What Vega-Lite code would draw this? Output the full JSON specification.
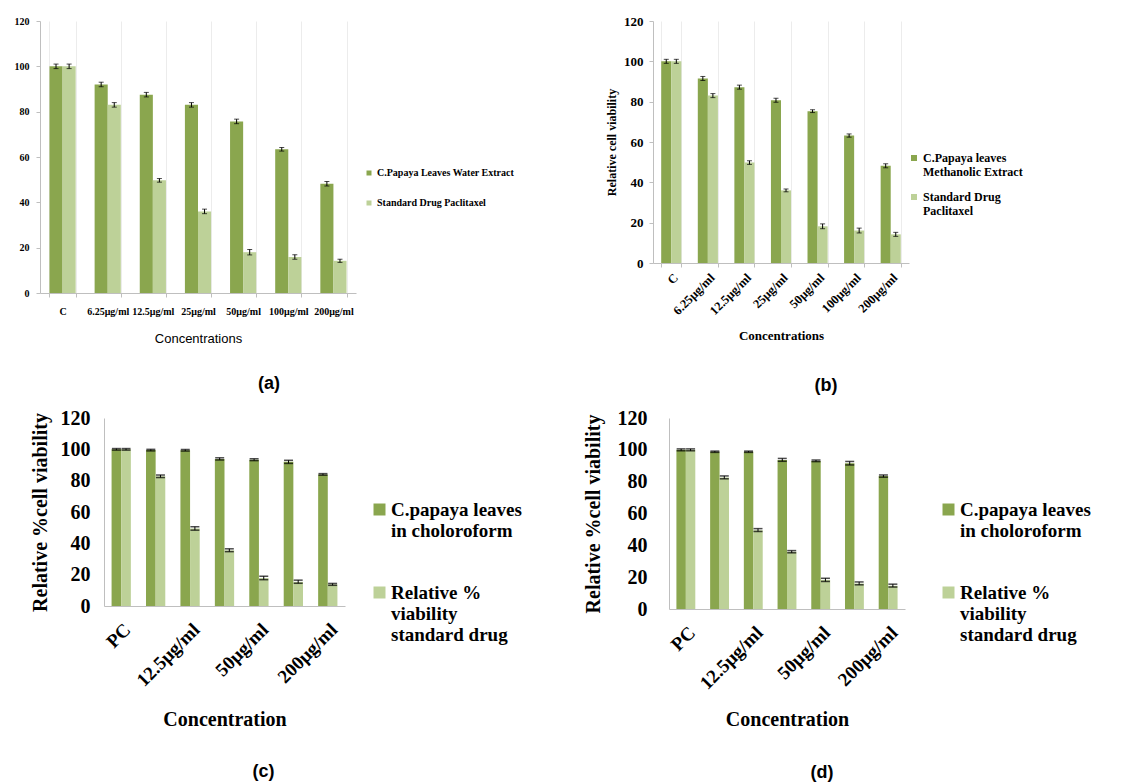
{
  "$schema": "https://vega.github.io/schema/vega-lite/v6.json",
  "background": "white",
  "padding": {"left": 10, "top": 15, "right": 0, "bottom": 0},
  "config": {
    "view": {"stroke": null},
    "axis": {"labelColor": "black", "titleColor": "black", "labelOverlap": false},
    "legend": {"labelColor": "black"}
  },
  "spacing": 12,
  "resolve": {"scale": {"color": "independent", "xOffset": "independent"}, "legend": {"color": "independent"}},
  "vconcat": [
    {
      "spacing": 1,
      "resolve": {"scale": {"color": "independent", "xOffset": "independent"}, "legend": {"color": "independent"}},
      "hconcat": [
        {"width": 3, "height": 1, "data": {"values": [{"v": 0}]}, "mark": {"type": "point", "size": 0, "opacity": 0}, "encoding": {}},
        {
          "spacing": 90,
          "resolve": {"scale": {"color": "independent", "xOffset": "independent"}, "legend": {"color": "independent"}},
          "hconcat": [
            {
              "width": 316,
              "height": 272,
              "data": {"values": [
                {"conc": "C", "series": "C.Papaya Leaves Water Extract", "value": 100.0, "lo": 99.0, "hi": 101.0},
                {"conc": "C", "series": "Standard Drug Paclitaxel", "value": 100.0, "lo": 99.0, "hi": 101.0},
                {"conc": "6.25μg/ml", "series": "C.Papaya Leaves Water Extract", "value": 92.0, "lo": 91.0, "hi": 93.0},
                {"conc": "6.25μg/ml", "series": "Standard Drug Paclitaxel", "value": 83.0, "lo": 82.0, "hi": 84.0},
                {"conc": "12.5μg/ml", "series": "C.Papaya Leaves Water Extract", "value": 87.5, "lo": 86.5, "hi": 88.5},
                {"conc": "12.5μg/ml", "series": "Standard Drug Paclitaxel", "value": 49.7, "lo": 48.9, "hi": 50.5},
                {"conc": "25μg/ml", "series": "C.Papaya Leaves Water Extract", "value": 83.0, "lo": 82.0, "hi": 84.0},
                {"conc": "25μg/ml", "series": "Standard Drug Paclitaxel", "value": 36.0, "lo": 35.0, "hi": 37.0},
                {"conc": "50μg/ml", "series": "C.Papaya Leaves Water Extract", "value": 75.7, "lo": 74.7, "hi": 76.7},
                {"conc": "50μg/ml", "series": "Standard Drug Paclitaxel", "value": 18.0, "lo": 16.8, "hi": 19.2},
                {"conc": "100μg/ml", "series": "C.Papaya Leaves Water Extract", "value": 63.4, "lo": 62.6, "hi": 64.2},
                {"conc": "100μg/ml", "series": "Standard Drug Paclitaxel", "value": 15.9, "lo": 14.9, "hi": 16.9},
                {"conc": "200μg/ml", "series": "C.Papaya Leaves Water Extract", "value": 48.2, "lo": 47.2, "hi": 49.2},
                {"conc": "200μg/ml", "series": "Standard Drug Paclitaxel", "value": 14.2, "lo": 13.5, "hi": 14.9}
              ]},
              "title": {"text": "(a)", "orient": "bottom", "frame": "group", "anchor": "middle", "dx": 71, "offset": 30, "font": "Liberation Sans", "fontSize": 18, "fontWeight": "bold", "color": "black"},
              "encoding": {
                "x": {"field": "conc", "type": "nominal", "sort": null, "title": "Concentrations",
                  "scale": {"type": "band", "paddingInner": 0.42, "paddingOuter": 0.21},
                  "axis": {"labelAngle": 0, "labelFont": "Liberation Serif", "labelFontSize": 10, "labelFontWeight": "bold", "labelPadding": 9, "labelOverlap": false, "labelLimit": 0, "tickBand": "extent", "tickSize": 4, "tickColor": "#bfbfbf", "domainColor": "#bfbfbf", "grid": true, "gridColor": "#ececec", "titleFont": "Liberation Sans Narrow, Liberation Sans", "titleFontSize": 13, "titleFontWeight": "normal", "titlePadding": 16}},
                "xOffset": {"field": "series", "type": "nominal", "sort": null, "scale": {"domain": ["C.Papaya Leaves Water Extract", "Standard Drug Paclitaxel"], "paddingInner": 0, "paddingOuter": 0}}
              },
              "layer": [
                {"mark": {"type": "bar"},
                 "encoding": {
                   "y": {"field": "value", "type": "quantitative", "title": null, "scale": {"domain": [0, 120]},
                     "axis": {"values": [0, 20, 40, 60, 80, 100, 120], "tickCount": 7, "labelOverlap": false, "grid": false, "labelFont": "Liberation Serif", "labelFontSize": 10, "labelFontWeight": "bold", "labelPadding": 7, "tickSize": 4, "tickColor": "#bfbfbf", "domainColor": "#bfbfbf"}},
                   "color": {"field": "series", "type": "nominal", "sort": null,
                     "scale": {"domain": ["C.Papaya Leaves Water Extract", "Standard Drug Paclitaxel"], "range": ["#8AA64E", "#BDD198"]},
                     "legend": {"orient": "none", "legendX": 324, "legendY": 147, "title": null, "symbolType": "square", "symbolSize": 25, "symbolStrokeWidth": 0, "labelFont": "Liberation Serif", "labelFontSize": 10, "labelFontWeight": "bold", "labelOffset": 3, "rowPadding": 20, "labelLimit": 0}}
                 }},
                {"mark": {"type": "rule", "color": "black", "strokeWidth": 1},
                 "encoding": {"y": {"field": "lo", "type": "quantitative", "title": null}, "y2": {"field": "hi"}}},
                {"mark": {"type": "tick", "color": "black", "size": 5, "thickness": 1},
                 "encoding": {"y": {"field": "lo", "type": "quantitative", "title": null}}},
                {"mark": {"type": "tick", "color": "black", "size": 5, "thickness": 1},
                 "encoding": {"y": {"field": "hi", "type": "quantitative", "title": null}}}
              ]
            },
            {
              "width": 256,
              "height": 242,
              "data": {"values": [
                {"conc": "C", "series": "C.Papaya leaves Methanolic Extract", "value": 100.0, "lo": 99.0, "hi": 101.0},
                {"conc": "C", "series": "Standard Drug Paclitaxel", "value": 100.0, "lo": 99.0, "hi": 101.0},
                {"conc": "6.25μg/ml", "series": "C.Papaya leaves Methanolic Extract", "value": 91.5, "lo": 90.5, "hi": 92.5},
                {"conc": "6.25μg/ml", "series": "Standard Drug Paclitaxel", "value": 83.0, "lo": 82.0, "hi": 84.0},
                {"conc": "12.5μg/ml", "series": "C.Papaya leaves Methanolic Extract", "value": 87.2, "lo": 86.2, "hi": 88.2},
                {"conc": "12.5μg/ml", "series": "Standard Drug Paclitaxel", "value": 49.8, "lo": 48.9, "hi": 50.7},
                {"conc": "25μg/ml", "series": "C.Papaya leaves Methanolic Extract", "value": 80.7, "lo": 79.7, "hi": 81.7},
                {"conc": "25μg/ml", "series": "Standard Drug Paclitaxel", "value": 36.0, "lo": 35.3, "hi": 36.7},
                {"conc": "50μg/ml", "series": "C.Papaya leaves Methanolic Extract", "value": 75.3, "lo": 74.6, "hi": 76.0},
                {"conc": "50μg/ml", "series": "Standard Drug Paclitaxel", "value": 18.2, "lo": 17.0, "hi": 19.4},
                {"conc": "100μg/ml", "series": "C.Papaya leaves Methanolic Extract", "value": 63.2, "lo": 62.4, "hi": 64.0},
                {"conc": "100μg/ml", "series": "Standard Drug Paclitaxel", "value": 16.1, "lo": 14.9, "hi": 17.3},
                {"conc": "200μg/ml", "series": "C.Papaya leaves Methanolic Extract", "value": 48.2, "lo": 47.2, "hi": 49.2},
                {"conc": "200μg/ml", "series": "Standard Drug Paclitaxel", "value": 14.2, "lo": 13.2, "hi": 15.2}
              ]},
              "title": {"text": "(b)", "orient": "bottom", "frame": "group", "anchor": "middle", "dx": 45, "offset": 35, "font": "Liberation Sans", "fontSize": 18, "fontWeight": "bold", "color": "black"},
              "encoding": {
                "x": {"field": "conc", "type": "nominal", "sort": null, "title": "Concentrations",
                  "scale": {"type": "band", "paddingInner": 0.45, "paddingOuter": 0.225},
                  "axis": {"labelAngle": -45, "labelFont": "Liberation Serif", "labelFontSize": 12.5, "labelFontWeight": "bold", "labelPadding": 4, "labelOverlap": false, "labelLimit": 0, "tickBand": "extent", "tickSize": 4, "tickColor": "#bfbfbf", "domainColor": "#bfbfbf", "grid": true, "gridColor": "#ececec", "titleFont": "Liberation Serif", "titleFontSize": 13, "titleFontWeight": "bold", "titlePadding": 12}},
                "xOffset": {"field": "series", "type": "nominal", "sort": null, "scale": {"domain": ["C.Papaya leaves Methanolic Extract", "Standard Drug Paclitaxel"], "paddingInner": 0, "paddingOuter": 0}}
              },
              "layer": [
                {"mark": {"type": "bar"},
                 "encoding": {
                   "y": {"field": "value", "type": "quantitative", "title": "Relative cell viability", "scale": {"domain": [0, 120]},
                     "axis": {"values": [0, 20, 40, 60, 80, 100, 120], "tickCount": 7, "labelOverlap": false, "grid": false, "labelFont": "Liberation Serif", "labelFontSize": 13, "labelFontWeight": "bold", "labelPadding": 6, "tickSize": 4, "tickColor": "#bfbfbf", "domainColor": "#bfbfbf", "titleFont": "Liberation Serif", "titleFontSize": 12, "titleFontWeight": "bold", "titlePadding": 5}},
                   "color": {"field": "series", "type": "nominal", "sort": null,
                     "scale": {"domain": ["C.Papaya leaves Methanolic Extract", "Standard Drug Paclitaxel"], "range": ["#8AA64E", "#BDD198"]},
                     "legend": {"orient": "none", "legendX": 255, "legendY": 131, "title": null, "symbolType": "square", "symbolSize": 36, "symbolStrokeWidth": 0, "labelFont": "Liberation Serif", "labelFontSize": 12, "labelFontWeight": "bold", "labelOffset": 3, "rowPadding": 13, "labelLimit": 0,
                       "labelExpr": "datum.label == 'Standard Drug Paclitaxel' ? ['Standard Drug', 'Paclitaxel'] : ['C.Papaya leaves', 'Methanolic Extract']"}}
                 }},
                {"mark": {"type": "rule", "color": "black", "strokeWidth": 1},
                 "encoding": {"y": {"field": "lo", "type": "quantitative", "title": "Relative cell viability"}, "y2": {"field": "hi"}}},
                {"mark": {"type": "tick", "color": "black", "size": 5, "thickness": 1},
                 "encoding": {"y": {"field": "lo", "type": "quantitative", "title": "Relative cell viability"}}},
                {"mark": {"type": "tick", "color": "black", "size": 5, "thickness": 1},
                 "encoding": {"y": {"field": "hi", "type": "quantitative", "title": "Relative cell viability"}}}
              ]
            }
          ]
        }
      ]
    },
    {
      "spacing": 1,
      "resolve": {"scale": {"color": "independent", "xOffset": "independent"}, "legend": {"color": "independent"}},
      "hconcat": [
        {"width": 19, "height": 1, "data": {"values": [{"v": 0}]}, "mark": {"type": "point", "size": 0, "opacity": 0}, "encoding": {}},
        {
          "spacing": 61,
          "resolve": {"scale": {"color": "independent", "xOffset": "independent"}, "legend": {"color": "independent"}},
          "hconcat": [
            {
              "width": 241,
              "height": 188,
              "data": {"values": [
                {"conc": "PC", "series": "C.papaya leaves in choloroform", "value": 100.0, "lo": 99.5, "hi": 100.5},
                {"conc": "PC", "series": "Relative % viability standard drug", "value": 100.0, "lo": 99.5, "hi": 100.5},
                {"conc": "6.25μg/ml", "series": "C.papaya leaves in choloroform", "value": 99.5, "lo": 99.0, "hi": 100.0},
                {"conc": "6.25μg/ml", "series": "Relative % viability standard drug", "value": 82.8, "lo": 82.0, "hi": 83.6},
                {"conc": "12.5μg/ml", "series": "C.papaya leaves in choloroform", "value": 99.4, "lo": 98.9, "hi": 99.9},
                {"conc": "12.5μg/ml", "series": "Relative % viability standard drug", "value": 49.5, "lo": 48.4, "hi": 50.6},
                {"conc": "25μg/ml", "series": "C.papaya leaves in choloroform", "value": 93.8, "lo": 93.2, "hi": 94.6},
                {"conc": "25μg/ml", "series": "Relative % viability standard drug", "value": 35.5, "lo": 34.7, "hi": 36.5},
                {"conc": "50μg/ml", "series": "C.papaya leaves in choloroform", "value": 93.4, "lo": 92.8, "hi": 94.0},
                {"conc": "50μg/ml", "series": "Relative % viability standard drug", "value": 17.8, "lo": 16.8, "hi": 19.0},
                {"conc": "100μg/ml", "series": "C.papaya leaves in choloroform", "value": 92.0, "lo": 91.0, "hi": 93.0},
                {"conc": "100μg/ml", "series": "Relative % viability standard drug", "value": 15.4, "lo": 14.5, "hi": 16.5},
                {"conc": "200μg/ml", "series": "C.papaya leaves in choloroform", "value": 84.0, "lo": 83.5, "hi": 84.5},
                {"conc": "200μg/ml", "series": "Relative % viability standard drug", "value": 13.8, "lo": 13.2, "hi": 14.4}
              ]},
              "title": {"text": "(c)", "orient": "bottom", "frame": "group", "anchor": "middle", "dx": 39, "offset": 33, "font": "Liberation Sans", "fontSize": 18, "fontWeight": "bold", "color": "black"},
              "encoding": {
                "x": {"field": "conc", "type": "nominal", "sort": null, "title": "Concentration",
                  "scale": {"type": "band", "paddingInner": 0.44, "paddingOuter": 0.22},
                  "axis": {"values": ["PC", "12.5μg/ml", "50μg/ml", "200μg/ml"], "labelAngle": -45, "labelFont": "Liberation Serif", "labelFontSize": 19, "labelFontWeight": "bold", "labelPadding": 14, "labelOverlap": false, "labelLimit": 0, "ticks": false, "domainColor": "#bfbfbf", "grid": false, "titleFont": "Liberation Serif", "titleFontSize": 20, "titleFontWeight": "bold", "titlePadding": 20}},
                "xOffset": {"field": "series", "type": "nominal", "sort": null, "scale": {"domain": ["C.papaya leaves in choloroform", "Relative % viability standard drug"], "paddingInner": 0, "paddingOuter": 0}}
              },
              "layer": [
                {"mark": {"type": "bar"},
                 "encoding": {
                   "y": {"field": "value", "type": "quantitative", "title": "Relative %cell viability", "scale": {"domain": [0, 120]},
                     "axis": {"values": [0, 20, 40, 60, 80, 100, 120], "tickCount": 7, "labelOverlap": false, "grid": false, "ticks": false, "labelFont": "Liberation Serif", "labelFontSize": 20, "labelFontWeight": "bold", "labelPadding": 14, "domainColor": "#bfbfbf", "titleFont": "Liberation Serif", "titleFontSize": 20, "titleFontWeight": "bold", "titlePadding": 10}},
                   "color": {"field": "series", "type": "nominal", "sort": null,
                     "scale": {"domain": ["C.papaya leaves in choloroform", "Relative % viability standard drug"], "range": ["#8AA64E", "#BDD198"]},
                     "legend": {"orient": "none", "legendX": 266, "legendY": 82, "title": null, "symbolType": "square", "symbolSize": 144, "symbolStrokeWidth": 0, "labelFont": "Liberation Serif", "labelFontSize": 19, "labelFontWeight": "bold", "labelOffset": 2, "rowPadding": 42, "labelLimit": 0,
                       "labelExpr": "datum.label == 'C.papaya leaves in choloroform' ? ['C.papaya leaves', 'in choloroform'] : ['Relative %', 'viability', 'standard drug']"}}
                 }},
                {"mark": {"type": "rule", "color": "black", "strokeWidth": 1},
                 "encoding": {"y": {"field": "lo", "type": "quantitative", "title": "Relative %cell viability"}, "y2": {"field": "hi"}}},
                {"mark": {"type": "tick", "color": "black", "size": 9, "thickness": 1.5},
                 "encoding": {"y": {"field": "lo", "type": "quantitative", "title": "Relative %cell viability"}}},
                {"mark": {"type": "tick", "color": "black", "size": 9, "thickness": 1.5},
                 "encoding": {"y": {"field": "hi", "type": "quantitative", "title": "Relative %cell viability"}}}
              ]
            },
            {
              "width": 236,
              "height": 191,
              "data": {"values": [
                {"conc": "PC", "series": "C.papaya leaves in choloroform", "value": 100.0, "lo": 99.4, "hi": 100.6},
                {"conc": "PC", "series": "Relative % viability standard drug", "value": 100.0, "lo": 99.4, "hi": 100.6},
                {"conc": "6.25μg/ml", "series": "C.papaya leaves in choloroform", "value": 98.8, "lo": 98.4, "hi": 99.2},
                {"conc": "6.25μg/ml", "series": "Relative % viability standard drug", "value": 82.6, "lo": 81.8, "hi": 83.6},
                {"conc": "12.5μg/ml", "series": "C.papaya leaves in choloroform", "value": 98.8, "lo": 98.4, "hi": 99.2},
                {"conc": "12.5μg/ml", "series": "Relative % viability standard drug", "value": 49.5, "lo": 48.7, "hi": 50.5},
                {"conc": "25μg/ml", "series": "C.papaya leaves in choloroform", "value": 93.6, "lo": 92.8, "hi": 94.6},
                {"conc": "25μg/ml", "series": "Relative % viability standard drug", "value": 36.0, "lo": 35.3, "hi": 36.7},
                {"conc": "50μg/ml", "series": "C.papaya leaves in choloroform", "value": 93.0, "lo": 92.6, "hi": 93.6},
                {"conc": "50μg/ml", "series": "Relative % viability standard drug", "value": 18.3, "lo": 17.3, "hi": 19.3},
                {"conc": "100μg/ml", "series": "C.papaya leaves in choloroform", "value": 91.5, "lo": 90.5, "hi": 92.7},
                {"conc": "100μg/ml", "series": "Relative % viability standard drug", "value": 16.0, "lo": 15.2, "hi": 17.0},
                {"conc": "200μg/ml", "series": "C.papaya leaves in choloroform", "value": 83.5, "lo": 82.8, "hi": 84.2},
                {"conc": "200μg/ml", "series": "Relative % viability standard drug", "value": 14.6, "lo": 13.8, "hi": 15.6}
              ]},
              "title": {"text": "(d)", "orient": "bottom", "frame": "group", "anchor": "middle", "dx": 35, "offset": 34, "font": "Liberation Sans", "fontSize": 18, "fontWeight": "bold", "color": "black"},
              "encoding": {
                "x": {"field": "conc", "type": "nominal", "sort": null, "title": "Concentration",
                  "scale": {"type": "band", "paddingInner": 0.44, "paddingOuter": 0.22},
                  "axis": {"values": ["PC", "12.5μg/ml", "50μg/ml", "200μg/ml"], "labelAngle": -45, "labelFont": "Liberation Serif", "labelFontSize": 19, "labelFontWeight": "bold", "labelPadding": 14, "labelOverlap": false, "labelLimit": 0, "ticks": false, "domainColor": "#bfbfbf", "grid": false, "titleFont": "Liberation Serif", "titleFontSize": 20, "titleFontWeight": "bold", "titlePadding": 17}},
                "xOffset": {"field": "series", "type": "nominal", "sort": null, "scale": {"domain": ["C.papaya leaves in choloroform", "Relative % viability standard drug"], "paddingInner": 0, "paddingOuter": 0}}
              },
              "layer": [
                {"mark": {"type": "bar"},
                 "encoding": {
                   "y": {"field": "value", "type": "quantitative", "title": "Relative %cell viability", "scale": {"domain": [0, 120]},
                     "axis": {"values": [0, 20, 40, 60, 80, 100, 120], "tickCount": 7, "labelOverlap": false, "grid": false, "ticks": false, "labelFont": "Liberation Serif", "labelFontSize": 20, "labelFontWeight": "bold", "labelPadding": 22, "domainColor": "#bfbfbf", "titleFont": "Liberation Serif", "titleFontSize": 20, "titleFontWeight": "bold", "titlePadding": 14}},
                   "color": {"field": "series", "type": "nominal", "sort": null,
                     "scale": {"domain": ["C.papaya leaves in choloroform", "Relative % viability standard drug"], "range": ["#8AA64E", "#BDD198"]},
                     "legend": {"orient": "none", "legendX": 270, "legendY": 82, "title": null, "symbolType": "square", "symbolSize": 144, "symbolStrokeWidth": 0, "labelFont": "Liberation Serif", "labelFontSize": 19, "labelFontWeight": "bold", "labelOffset": 2, "rowPadding": 42, "labelLimit": 0,
                       "labelExpr": "datum.label == 'C.papaya leaves in choloroform' ? ['C.papaya leaves', 'in choloroform'] : ['Relative %', 'viability', 'standard drug']"}}
                 }},
                {"mark": {"type": "rule", "color": "black", "strokeWidth": 1},
                 "encoding": {"y": {"field": "lo", "type": "quantitative", "title": "Relative %cell viability"}, "y2": {"field": "hi"}}},
                {"mark": {"type": "tick", "color": "black", "size": 9, "thickness": 1.5},
                 "encoding": {"y": {"field": "lo", "type": "quantitative", "title": "Relative %cell viability"}}},
                {"mark": {"type": "tick", "color": "black", "size": 9, "thickness": 1.5},
                 "encoding": {"y": {"field": "hi", "type": "quantitative", "title": "Relative %cell viability"}}}
              ]
            }
          ]
        }
      ]
    }
  ]
}
